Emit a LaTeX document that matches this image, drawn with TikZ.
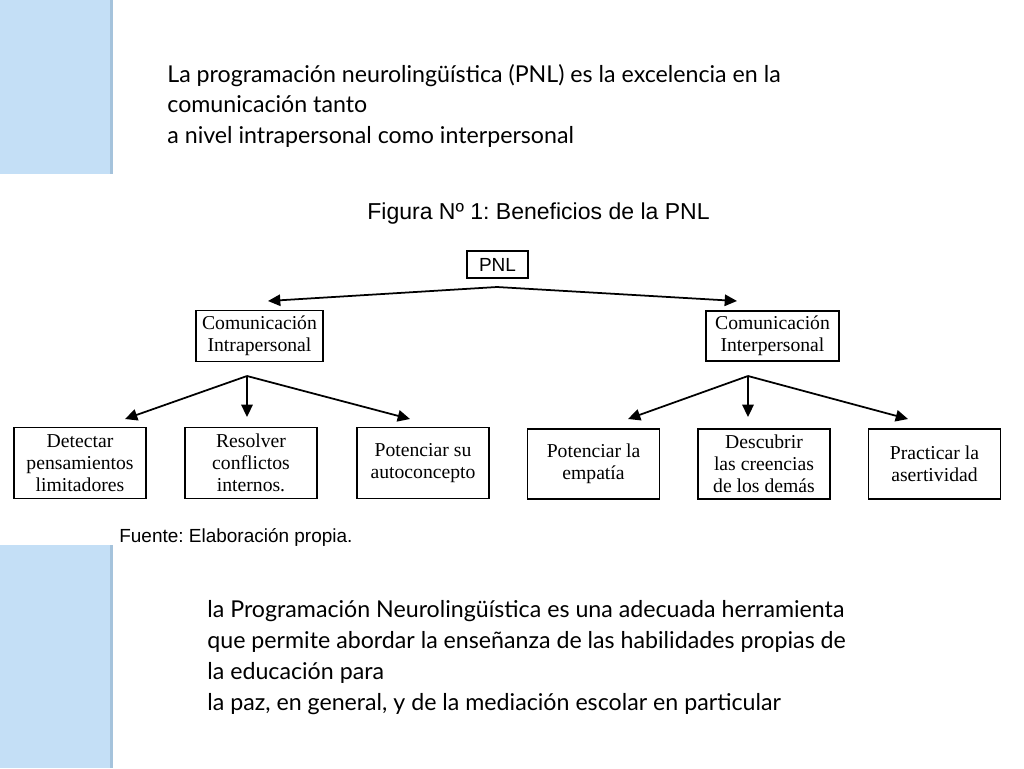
\documentclass[tikz,border=0pt]{standalone}
\usepackage{fontspec}
\setmainfont{Liberation Serif}
\newfontfamily\gillfont{Lato}
\newfontfamily\arialfont{Liberation Sans}
\usetikzlibrary{arrows.meta}
\frenchspacing
\definecolor{patchblue}{RGB}{196,223,246}
\definecolor{patchedge}{RGB}{165,195,220}
\tikzset{
  px/.style={x=0.02cm,y=-0.02cm},
  bodytext/.style={anchor=base west,inner sep=0pt,font=\gillfont\fontsize{13.2}{15}\selectfont},
  boxnode/.style={draw,line width=0.8pt,align=center,inner sep=0pt,font=\fontsize{11.2}{12.6}\selectfont},
  conn/.style={line width=1pt,-{Triangle[length=7pt,width=6.5pt]}}
}
\begin{document}
\begin{tikzpicture}[px]
\useasboundingbox (0,0) rectangle (1024,768);
\fill[white] (0,0) rectangle (1024,768);
% blue patches
\fill[patchblue] (0,0) rectangle (113,174);
\fill[patchedge] (110,0) rectangle (113,174);
\fill[patchblue] (0,545) rectangle (113,768);
\fill[patchedge] (110,545) rectangle (113,768);
% top text
\node[bodytext] (t1) at (167,82) {La programación neurolingüística (PNL) es la excelencia en la};
\node[bodytext] (t2) at (167,112) {comunicación tanto};
\node[bodytext] (t3) at (167,143) {a nivel intrapersonal como interpersonal};
% title
\node[anchor=base west,inner sep=0pt,font=\arialfont\fontsize{13.1}{15}\selectfont] (title) at (367,219) {Figura Nº 1: Beneficios de la PNL};
% boxes
\node[boxnode,font=\arialfont\fontsize{10.8}{12}\selectfont,minimum width=61*0.02cm,minimum height=27*0.02cm] (pnl) at (497.5,264.5) {PNL};
\node[boxnode,minimum width=127*0.02cm,minimum height=51*0.02cm] (intra) at (259.5,336) {Comunicación\\Intrapersonal};
\node[boxnode,minimum width=133*0.02cm,minimum height=50*0.02cm] (inter) at (772.5,336) {Comunicación\\Interpersonal};
\node[boxnode,minimum width=132*0.02cm,minimum height=71*0.02cm] (b1) at (80,463) {Detectar\\pensamientos\\limitadores};
\node[boxnode,minimum width=132*0.02cm,minimum height=71*0.02cm] (b2) at (251,463) {Resolver\\conflictos\\internos.};
\node[boxnode,minimum width=132*0.02cm,minimum height=71*0.02cm] (b3) at (423,463) {Potenciar su\\autoconcepto};
\node[boxnode,minimum width=132*0.02cm,minimum height=70*0.02cm] (b4) at (593.5,464) {Potenciar la\\empatía};
\node[boxnode,minimum width=132*0.02cm,minimum height=70*0.02cm] (b5) at (764,464) {Descubrir\\las creencias\\de los demás};
\node[boxnode,minimum width=132*0.02cm,minimum height=70*0.02cm] (b6) at (934.5,464) {Practicar la\\asertividad};
% connector coordinates
\coordinate (apex0) at (497,287);
\coordinate (tipL) at (268,301);
\coordinate (tipR) at (737,301);
\coordinate (apex1) at (247,376);
\coordinate (t1a) at (125,419);
\coordinate (t1b) at (247,417);
\coordinate (t1c) at (410,419);
\coordinate (apex2) at (748,376);
\coordinate (t2a) at (628,419);
\coordinate (t2b) at (748,417);
\coordinate (t2c) at (908,419);
\draw[conn] (apex0) -- (tipL);
\draw[conn] (apex0) -- (tipR);
\draw[conn] (apex1) -- (t1a);
\draw[conn] (apex1) -- (t1b);
\draw[conn] (apex1) -- (t1c);
\draw[conn] (apex2) -- (t2a);
\draw[conn] (apex2) -- (t2b);
\draw[conn] (apex2) -- (t2c);
% source
\node[anchor=base west,inner sep=0pt,font=\arialfont\fontsize{10.8}{12}\selectfont] (src) at (119,542) {Fuente: Elaboración propia.};
% bottom text
\node[bodytext] (u1) at (207,617) {la Programación Neurolingüística es una adecuada herramienta};
\node[bodytext] (u2) at (207,648) {que permite abordar la enseñanza de las habilidades propias de};
\node[bodytext] (u3) at (207,679) {la educación para};
\node[bodytext] (u4) at (207,710) {la paz, en general, y de la mediación escolar en particular};
\end{tikzpicture}
\end{document}
